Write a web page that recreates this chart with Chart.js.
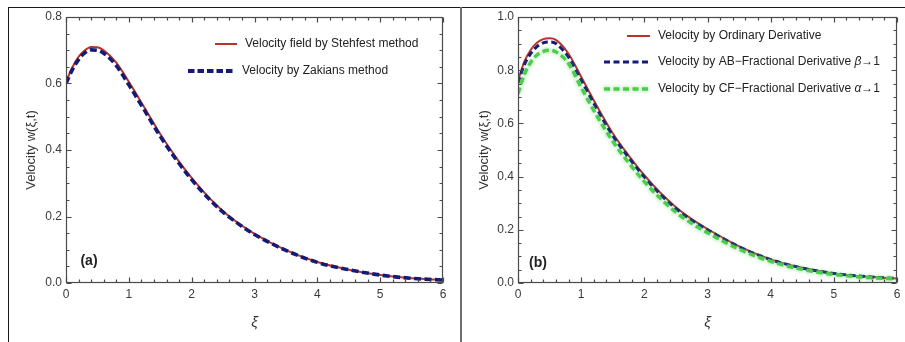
<!DOCTYPE html>
<html>
<head>
<meta charset="utf-8">
<script src="https://cdn.jsdelivr.net/npm/chart.js@4.4.1/dist/chart.umd.min.js"></script>
<style>
  html, body { margin: 0; padding: 0; background: #fff; }
  #page { position: relative; width: 905px; height: 342px; overflow: hidden; background: #fff; }
  .rule { position: absolute; background: #1a1a1a; }
  canvas { position: absolute; top: 0; }
</style>
</head>
<body>
<div id="page">
  <div class="rule" style="left:8px;top:7px;width:897px;height:1px;"></div>
  <div class="rule" style="left:8px;top:7px;width:1px;height:335px;"></div>
  <div class="rule" style="left:460px;top:7px;width:2px;height:335px;background:#6e6e6e;"></div>
  <canvas id="panelA" width="460" height="342" style="left:0"></canvas>
  <canvas id="panelB" width="443" height="342" style="left:462px"></canvas>
</div>
<script>
// ---- data ----
const xi = [0, 0.1, 0.2, 0.3, 0.4, 0.5, 0.6, 0.8, 1, 1.25, 1.5, 1.75, 2, 2.25, 2.5, 2.75, 3, 3.5, 4, 4.5, 5, 5.5, 6];

// panel (a): inversion methods
const stehfest = [0.605, 0.648, 0.680, 0.700, 0.710, 0.709, 0.700, 0.663, 0.605, 0.527, 0.448, 0.378, 0.316, 0.262, 0.216, 0.179, 0.148, 0.099, 0.063, 0.040, 0.024, 0.014, 0.009];
const zakians  = [0.600, 0.641, 0.672, 0.692, 0.701, 0.700, 0.691, 0.654, 0.596, 0.519, 0.441, 0.372, 0.311, 0.258, 0.213, 0.177, 0.146, 0.098, 0.062, 0.040, 0.024, 0.014, 0.009];

// panel (b): derivative models
const ordinary = [0.760, 0.832, 0.876, 0.903, 0.917, 0.920, 0.914, 0.862, 0.775, 0.665, 0.563, 0.480, 0.405, 0.340, 0.285, 0.240, 0.203, 0.138, 0.089, 0.057, 0.036, 0.024, 0.017];
const abFrac   = [0.752, 0.820, 0.862, 0.889, 0.903, 0.906, 0.900, 0.849, 0.763, 0.654, 0.553, 0.472, 0.398, 0.334, 0.280, 0.236, 0.200, 0.136, 0.088, 0.056, 0.036, 0.024, 0.017];
const cfFrac   = [0.712, 0.784, 0.829, 0.857, 0.871, 0.875, 0.869, 0.825, 0.735, 0.628, 0.533, 0.453, 0.381, 0.319, 0.266, 0.224, 0.189, 0.127, 0.081, 0.051, 0.032, 0.021, 0.015];

// tick labels
const xTicks  = [0, 1, 2, 3, 4, 5, 6];
const yTicksA = [0, 0.2, 0.4, 0.6, 0.8];
const yTicksB = [0, 0.2, 0.4, 0.6, 0.8, 1.0];

// legend texts
const legendA = ['Velocity field by Stehfest method', 'Velocity by Zakians method'];
const legendB = [
  [{ t: 'Velocity by Ordinary Derivative' }],
  [{ t: 'Velocity by AB\u2212Fractional Derivative ' }, { t: '\u03B2', italic: true }, { t: '\u21921' }],
  [{ t: 'Velocity by CF\u2212Fractional Derivative ' }, { t: '\u03B1', italic: true }, { t: '\u21921' }]
];

const yTitle = 'Velocity w(\u03BE,t)';
const xTitle = '\u03BE';

// ---- styling ----
const FONT = '"Liberation Sans", Arial, Helvetica, sans-serif';
const RED = '#b8332a';
const NAVY = '#141a78';
const GREEN = '#4ccc4c';
const FRAME = '#4a4a4a';

const pts = ys => xi.map((x, i) => ({ x, y: ys[i] }));

// frame with inward major/minor ticks on all four sides
const frameTicks = {
  id: 'frameTicks',
  afterDatasetsDraw(chart, args, opts) {
    const { ctx, chartArea, scales } = chart;
    const L = Math.round(chartArea.left) + 0.5, R = Math.round(chartArea.right) - 0.5;
    const T = Math.round(chartArea.top) + 0.5, B = Math.round(chartArea.bottom) - 0.5;
    ctx.save();
    ctx.strokeStyle = FRAME;
    ctx.lineWidth = 1.2;
    ctx.strokeRect(L, T, R - L, B - T);
    ctx.beginPath();
    const xs = scales.x, ys = scales.y;
    const nx = Math.round((xs.max - xs.min) / opts.xMinor);
    for (let i = 0; i <= nx; i++) {
      const px = Math.round(xs.getPixelForValue(xs.min + i * opts.xMinor)) + 0.5;
      const len = i % opts.xRatio === 0 ? 5 : 3;
      ctx.moveTo(px, B); ctx.lineTo(px, B - len);
      ctx.moveTo(px, T); ctx.lineTo(px, T + len);
    }
    const ny = Math.round((ys.max - ys.min) / opts.yMinor);
    for (let i = 0; i <= ny; i++) {
      const py = Math.round(ys.getPixelForValue(ys.min + i * opts.yMinor)) + 0.5;
      const len = i % opts.yRatio === 0 ? 5 : 3;
      ctx.moveTo(L, py); ctx.lineTo(L + len, py);
      ctx.moveTo(R, py); ctx.lineTo(R - len, py);
    }
    ctx.stroke();
    ctx.restore();
  }
};

// soft halo behind marked datasets
const glow = {
  id: 'glow',
  beforeDatasetDraw(chart, args) {
    const ds = chart.data.datasets[args.index];
    if (ds.glow) {
      chart.ctx.save();
      chart.ctx.shadowColor = ds.glow;
      chart.ctx.shadowBlur = 4;
    }
  },
  afterDatasetDraw(chart, args) {
    if (chart.data.datasets[args.index].glow) chart.ctx.restore();
  }
};

// in-plot legend and panel tag
const insetLegend = {
  id: 'insetLegend',
  afterDraw(chart, args, opts) {
    const { ctx } = chart;
    ctx.save();
    for (const it of opts.items) {
      ctx.save();
      ctx.strokeStyle = it.color;
      ctx.lineWidth = it.width;
      ctx.setLineDash(it.dash || []);
      if (it.glow) { ctx.shadowColor = it.glow; ctx.shadowBlur = 4; }
      ctx.beginPath();
      ctx.moveTo(it.x1, it.y); ctx.lineTo(it.x2, it.y);
      ctx.stroke();
      ctx.restore();
      let tx = it.tx;
      ctx.fillStyle = '#222';
      ctx.textBaseline = 'middle';
      ctx.textAlign = 'left';
      for (const seg of it.text) {
        ctx.font = (seg.italic ? 'italic ' : '') + '12px ' + FONT;
        ctx.fillText(seg.t, tx, it.y);
        tx += ctx.measureText(seg.t).width;
      }
    }
    ctx.font = 'bold 14px ' + FONT;
    ctx.fillStyle = '#222';
    ctx.textAlign = 'center';
    ctx.textBaseline = 'middle';
    ctx.fillText(opts.tag.text, opts.tag.x, opts.tag.y);
    ctx.restore();
  }
};

function makeScales(yMax, yTicks, yWidth, yTitlePad) {
  return {
    x: {
      type: 'linear', min: 0, max: 6,
      afterBuildTicks: s => { s.ticks = xTicks.map(v => ({ value: v })); },
      ticks: { color: '#3a3a3a', font: { family: FONT, size: 12 }, padding: 4, maxRotation: 0,
               callback: v => String(v) },
      grid: { display: false, drawTicks: false },
      border: { display: false },
      title: { display: true, text: xTitle, color: '#333',
               font: { family: FONT, size: 15, style: 'italic' }, padding: { top: 0, bottom: 10 } },
      afterFit: s => { s.height = 59; }
    },
    y: {
      type: 'linear', min: 0, max: yMax,
      afterBuildTicks: s => { s.ticks = yTicks.map(v => ({ value: v })); },
      ticks: { color: '#3a3a3a', font: { family: FONT, size: 12 }, padding: 4,
               callback: v => Number(v).toFixed(1) },
      grid: { display: false, drawTicks: false },
      border: { display: false },
      title: { display: true, text: yTitle, color: '#333',
               font: { family: FONT, size: 13 }, padding: { top: yTitlePad, bottom: 0 } },
      afterFit: s => { s.width = yWidth; }
    }
  };
}

const lineDefaults = { pointRadius: 0, fill: false, cubicInterpolationMode: 'monotone', borderCapStyle: 'butt' };

new Chart(document.getElementById('panelA'), {
  type: 'line',
  data: {
    datasets: [
      { ...lineDefaults, label: legendA[0], data: pts(stehfest), borderColor: RED, borderWidth: 2, order: 2 },
      { ...lineDefaults, label: legendA[1], data: pts(zakians), borderColor: NAVY, borderWidth: 3.6,
        borderDash: [7, 3.5], order: 1 }
    ]
  },
  options: {
    responsive: false, animation: false, events: [],
    layout: { padding: { left: 0, top: 17, right: 17, bottom: 0 } },
    scales: makeScales(0.8, yTicksA, 66, 24),
    plugins: {
      legend: { display: false }, tooltip: { enabled: false },
      frameTicks: { xMinor: 0.2, xRatio: 5, yMinor: 0.05, yRatio: 4 },
      insetLegend: {
        items: [
          { x1: 215, x2: 237, y: 44, tx: 245, color: RED, width: 2, text: [{ t: legendA[0] }] },
          { x1: 188, x2: 233, y: 71, tx: 242, color: NAVY, width: 4, dash: [6.5, 3], text: [{ t: legendA[1] }] }
        ],
        tag: { text: '(a)', x: 89, y: 261 }
      }
    }
  },
  plugins: [glow, frameTicks, insetLegend]
});

new Chart(document.getElementById('panelB'), {
  type: 'line',
  data: {
    datasets: [
      { ...lineDefaults, label: legendB[0][0].t, data: pts(ordinary), borderColor: RED, borderWidth: 2, order: 3 },
      { ...lineDefaults, label: legendB[1][0].t, data: pts(abFrac), borderColor: NAVY, borderWidth: 3,
        borderDash: [6, 3.5], order: 2 },
      { ...lineDefaults, label: legendB[2][0].t, data: pts(cfFrac), borderColor: GREEN, borderWidth: 3.4,
        borderDash: [6.5, 3.5], order: 1, glow: 'rgba(90,210,90,0.75)' }
    ]
  },
  options: {
    responsive: false, animation: false, events: [],
    layout: { padding: { left: 0, top: 17, right: 8, bottom: 0 } },
    scales: makeScales(1.0, yTicksB, 56, 15),
    plugins: {
      legend: { display: false }, tooltip: { enabled: false },
      frameTicks: { xMinor: 0.2, xRatio: 5, yMinor: 0.05, yRatio: 4 },
      insetLegend: {
        items: [
          { x1: 165, x2: 188, y: 36, tx: 196, color: RED, width: 2, text: legendB[0] },
          { x1: 142, x2: 188, y: 62, tx: 196, color: NAVY, width: 3, dash: [6, 3.5], text: legendB[1] },
          { x1: 142, x2: 188, y: 89, tx: 196, color: GREEN, width: 3.4, dash: [6, 3.5], text: legendB[2],
            glow: 'rgba(90,210,90,0.75)' }
        ],
        tag: { text: '(b)', x: 76, y: 263 }
      }
    }
  },
  plugins: [glow, frameTicks, insetLegend]
});
</script>
</body>
</html>
